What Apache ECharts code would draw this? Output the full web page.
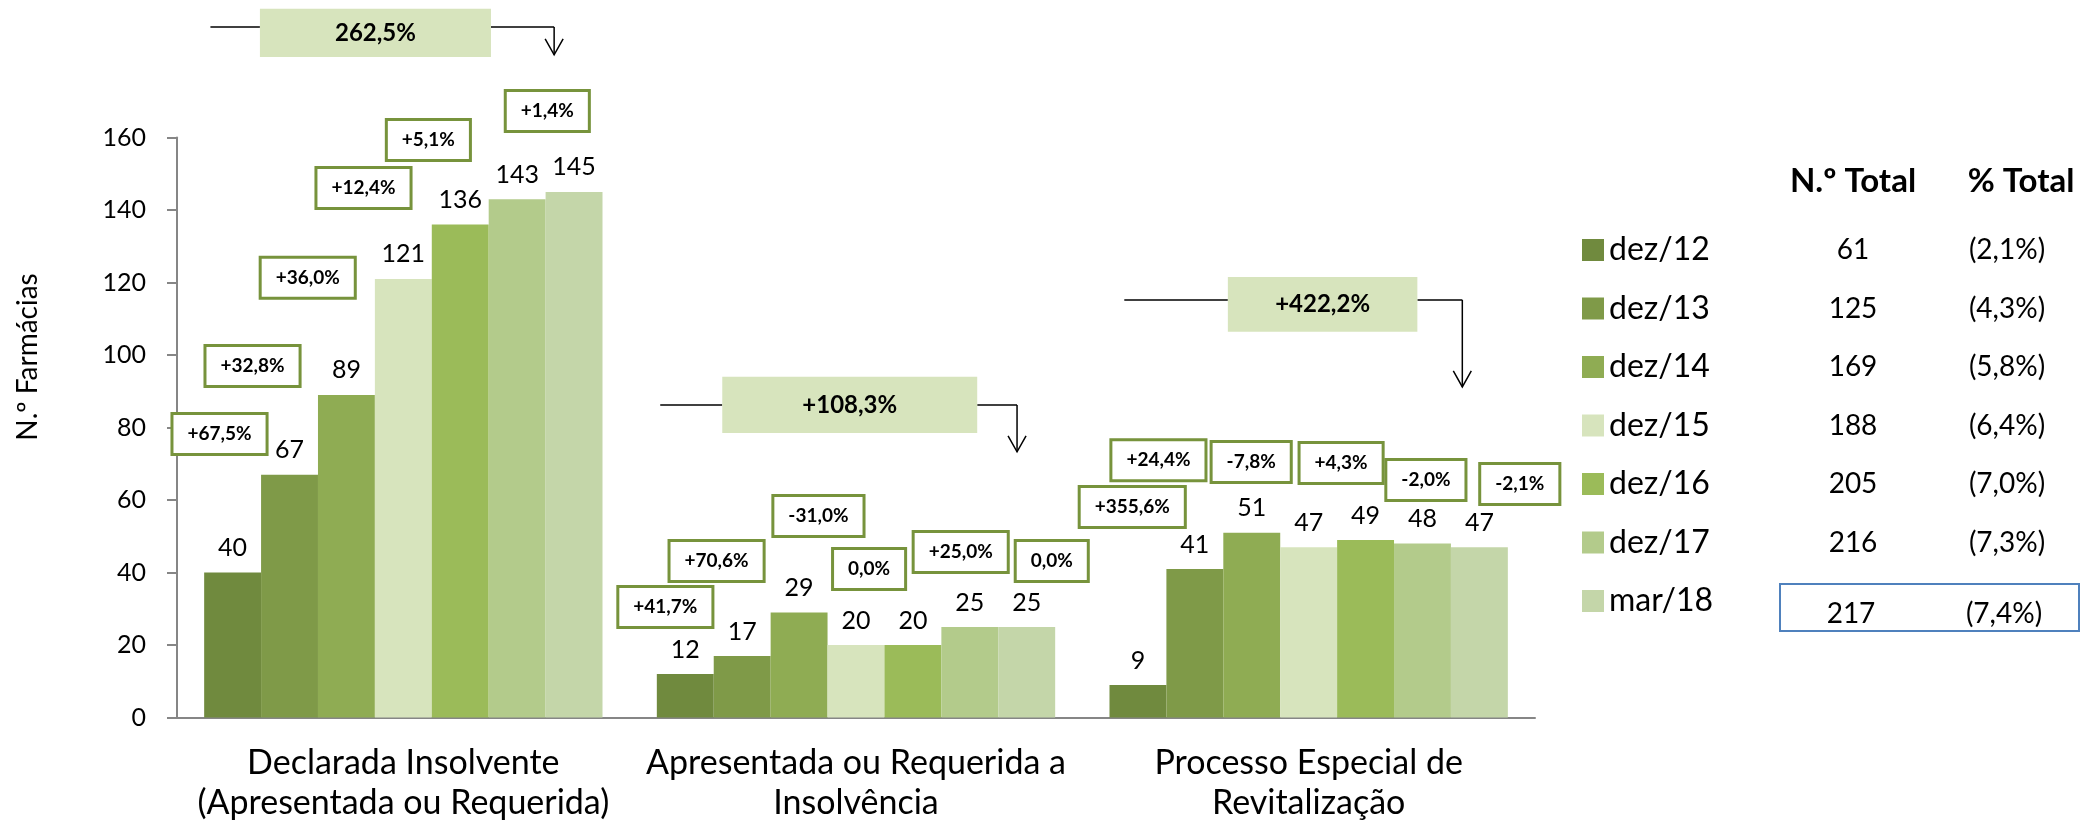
<!DOCTYPE html>
<html>
<head>
<meta charset="utf-8">
<title>Farmácias em insolvência</title>
<script src="https://cdn.jsdelivr.net/npm/echarts@6/dist/echarts.min.js"></script>
<style>
  html, body { margin: 0; padding: 0; background: #fff; }
  #chart { width: 2097px; height: 831px; }
</style>
</head>
<body>
<div id="chart"></div>
<script>
// categorias do eixo X
const categories = [
  'Declarada Insolvente\n(Apresentada ou Requerida)',
  'Apresentada ou Requerida a\nInsolvência',
  'Processo Especial de\nRevitalização'
]

// períodos (séries)
const periods = ['dez/12', 'dez/13', 'dez/14', 'dez/15', 'dez/16', 'dez/17', 'mar/18']

// valores por período
const dez12 = [40, 12, 9]
const dez13 = [67, 17, 41]
const dez14 = [89, 29, 51]
const dez15 = [121, 20, 47]
const dez16 = [136, 20, 49]
const dez17 = [143, 25, 48]
const mar18 = [145, 25, 47]
const seriesValues = [dez12, dez13, dez14, dez15, dez16, dez17, mar18]

// totais da tabela à direita
const totalCount = [61, 125, 169, 188, 205, 216, 217]
const totalShare = ['(2,1%)', '(4,3%)', '(5,8%)', '(6,4%)', '(7,0%)', '(7,3%)', '(7,4%)']

// variações entre períodos (caixas verdes)
const changeLabels = [
  ['+67,5%', '+32,8%', '+36,0%', '+12,4%', '+5,1%', '+1,4%'],
  ['+41,7%', '+70,6%', '-31,0%', '0,0%', '+25,0%', '0,0%'],
  ['+355,6%', '+24,4%', '-7,8%', '+4,3%', '-2,0%', '-2,1%']
]

// variação total dez/12 -> mar/18
const overallChange = ['262,5%', '+108,3%', '+422,2%']

// eixo Y
const yMin = 0
const yMax = 160
const yStep = 20

// ---- layout das anotações (não são dados) ----
// [deslocamento em larguras de barra a partir do centro da categoria, valor Y do centro]
const changeLayout = [
  [[-3.23, 78.2], [-2.65, 97.0], [-1.68, 121.3], [-0.70, 146.1], [0.44, 159.3], [2.53, 167.3]],
  [[-3.35, 30.5], [-2.45, 43.2], [-0.66, 55.6], [0.23, 41.0], [1.84, 45.7], [3.44, 43.2]],
  [[-3.10, 58.1], [-2.64, 71.0], [-1.01, 70.5], [0.57, 70.2], [2.06, 65.5], [3.71, 64.4]]
]
const overallLayout = [
  { lineY: 190.5, lineL: -3.39, boxL: -2.52, boxR: 1.54, lineR: 2.65, boxTop: 195.5, boxBottom: 182.2, tip: 182.8 },
  { lineY: 86.2, lineL: -3.44, boxL: -2.35, boxR: 2.13, lineR: 2.83, boxTop: 94.0, boxBottom: 78.5, tip: 73.3 },
  { lineY: 115.2, lineL: -3.24, boxL: -1.42, boxR: 1.91, lineR: 2.70, boxTop: 121.5, boxBottom: 106.4, tip: 91.2 }
]

const colors = ['#708A3E', '#7F9A48', '#8FAC53', '#D7E4BD', '#9BBB59', '#B3CB8B', '#C4D6A9']
const FONT = 'Lato'
const CAT_GAP = 0.12
const LAST = periods.length - 1

const chart = echarts.init(document.getElementById('chart'))

// largura de uma barra em px
const barWidthOf = (api) => api.size([1, 0])[0] * (1 - CAT_GAP) / periods.length

const changeData = []
changeLayout.forEach((row, c) => {
  row.forEach((p, k) => {
    changeData.push({ value: [c, p[1], p[0]], text: changeLabels[c][k] })
  })
})

const renderChange = (params, api) => {
  const item = changeData[params.dataIndex]
  const pt = api.coord([api.value(0), api.value(1)])
  const x = pt[0] + api.value(2) * barWidthOf(api)
  return {
    type: 'text',
    x: x,
    y: pt[1],
    style: {
      text: item.text,
      font: 'bold 19px ' + FONT,
      fill: '#000',
      align: 'center',
      verticalAlign: 'middle',
      lineHeight: 22,
      backgroundColor: '#fff',
      borderColor: '#77933C',
      borderWidth: 3,
      padding: [8, 14]
    }
  }
}

const renderOverall = (params, api) => {
  const c = api.value(0)
  const L = overallLayout[params.dataIndex]
  const cx = api.coord([c, 0])[0]
  const bw = barWidthOf(api)
  const X = (off) => cx + off * bw
  const Y = (v) => api.coord([c, v])[1]
  const ly = Y(L.lineY)
  const top = Y(L.boxTop)
  const bot = Y(L.boxBottom)
  const tip = Y(L.tip)
  const ax = X(L.lineR)
  const lineStyle = { stroke: '#000', lineWidth: 1.5, fill: 'none' }
  return {
    type: 'group',
    children: [
      { type: 'line', shape: { x1: X(L.lineL), y1: ly, x2: X(L.boxL), y2: ly }, style: lineStyle },
      { type: 'line', shape: { x1: X(L.boxR), y1: ly, x2: ax, y2: ly }, style: lineStyle },
      { type: 'line', shape: { x1: ax, y1: ly, x2: ax, y2: tip }, style: lineStyle },
      { type: 'polyline', shape: { points: [[ax - 9, tip - 16], [ax, tip], [ax + 9, tip - 16]] }, style: lineStyle },
      {
        type: 'rect',
        shape: { x: X(L.boxL), y: top, width: X(L.boxR) - X(L.boxL), height: bot - top },
        style: { fill: '#D7E4BD' }
      },
      {
        type: 'text',
        x: (X(L.boxL) + X(L.boxR)) / 2,
        y: (top + bot) / 2,
        style: {
          text: overallChange[params.dataIndex],
          font: 'bold 24px ' + FONT,
          fill: '#000',
          align: 'center',
          verticalAlign: 'middle'
        }
      }
    ]
  }
}

const barSeries = periods.map((name, i) => ({
  name: name,
  type: 'bar',
  data: seriesValues[i],
  barGap: '0%',
  barCategoryGap: CAT_GAP * 100 + '%',
  itemStyle: { color: colors[i] },
  label: {
    show: true,
    position: 'top',
    distance: 12,
    fontSize: 25,
    fontFamily: FONT,
    color: '#000'
  },
  emphasis: { disabled: true }
}))

const option = {
  animation: false,
  backgroundColor: '#fff',
  grid: { left: 177, right: 562, top: 137.5, bottom: 113.4 },
  legend: {
    orient: 'vertical',
    left: 1577,
    top: 229,
    itemWidth: 22,
    itemHeight: 22,
    itemGap: 26.5,
    icon: 'rect',
    selectedMode: false,
    data: periods,
    formatter: (name) => {
      const i = periods.indexOf(name)
      // a última linha (em caixa) é desenhada à parte, um pouco mais abaixo
      if (i === LAST) return `{n|${name}}`
      return `{n|${name}}{t|${totalCount[i]}}{p|${totalShare[i]}}`
    },
    textStyle: {
      fontFamily: FONT,
      color: '#000',
      rich: {
        n: { width: 194, fontSize: 32, fontFamily: FONT, lineHeight: 36, color: '#000' },
        t: { width: 100, align: 'center', fontSize: 28, fontFamily: FONT, lineHeight: 36, color: '#000' },
        p: { width: 208, align: 'center', fontSize: 28, fontFamily: FONT, lineHeight: 36, color: '#000' }
      }
    }
  },
  xAxis: {
    type: 'category',
    data: categories,
    axisLine: { lineStyle: { color: '#868686', width: 2 } },
    axisTick: { length: 11, lineStyle: { color: '#868686', width: 2 } },
    axisLabel: {
      interval: 0,
      fontSize: 34,
      lineHeight: 40,
      fontFamily: FONT,
      color: '#000',
      margin: 25
    }
  },
  yAxis: {
    type: 'value',
    min: yMin,
    max: yMax,
    interval: yStep,
    axisLine: { show: true, lineStyle: { color: '#868686', width: 2 } },
    axisTick: { show: true, length: 10, lineStyle: { color: '#868686', width: 2 } },
    splitLine: { show: false },
    axisLabel: { fontSize: 25, fontFamily: FONT, color: '#000', margin: 31 }
  },
  graphic: [
    {
      type: 'text',
      x: 28,
      y: 357,
      rotation: Math.PI / 2,
      style: { text: 'N.º Farmácias', font: '28px ' + FONT, fill: '#000', align: 'center', verticalAlign: 'middle' }
    },
    {
      type: 'text',
      x: 1853,
      y: 181,
      style: { text: 'N.º Total', font: 'bold 33px ' + FONT, fill: '#000', align: 'center', verticalAlign: 'middle' }
    },
    {
      type: 'text',
      x: 2021,
      y: 181,
      style: { text: '% Total', font: 'bold 33px ' + FONT, fill: '#000', align: 'center', verticalAlign: 'middle' }
    },
    {
      type: 'rect',
      shape: { x: 1780, y: 584, width: 299, height: 47 },
      style: { fill: 'none', stroke: '#4F81BD', lineWidth: 2 }
    },
    {
      type: 'text',
      x: 1851,
      y: 614,
      style: { text: String(totalCount[LAST]), font: '28px ' + FONT, fill: '#000', align: 'center', verticalAlign: 'middle' }
    },
    {
      type: 'text',
      x: 2004,
      y: 614,
      style: { text: totalShare[LAST], font: '28px ' + FONT, fill: '#000', align: 'center', verticalAlign: 'middle' }
    }
  ],
  series: [
    ...barSeries,
    {
      type: 'custom',
      name: 'variação',
      renderItem: renderChange,
      data: changeData.map(d => d.value),
      encode: { x: 0, y: 1 },
      z: 10,
      silent: true
    },
    {
      type: 'custom',
      name: 'variação total',
      renderItem: renderOverall,
      data: overallLayout.map((l, c) => [c, l.lineY]),
      encode: { x: 0, y: 1 },
      z: 10,
      silent: true
    }
  ]
}

chart.setOption(option)
window.addEventListener('resize', () => chart.resize())
</script>
</body>
</html>
